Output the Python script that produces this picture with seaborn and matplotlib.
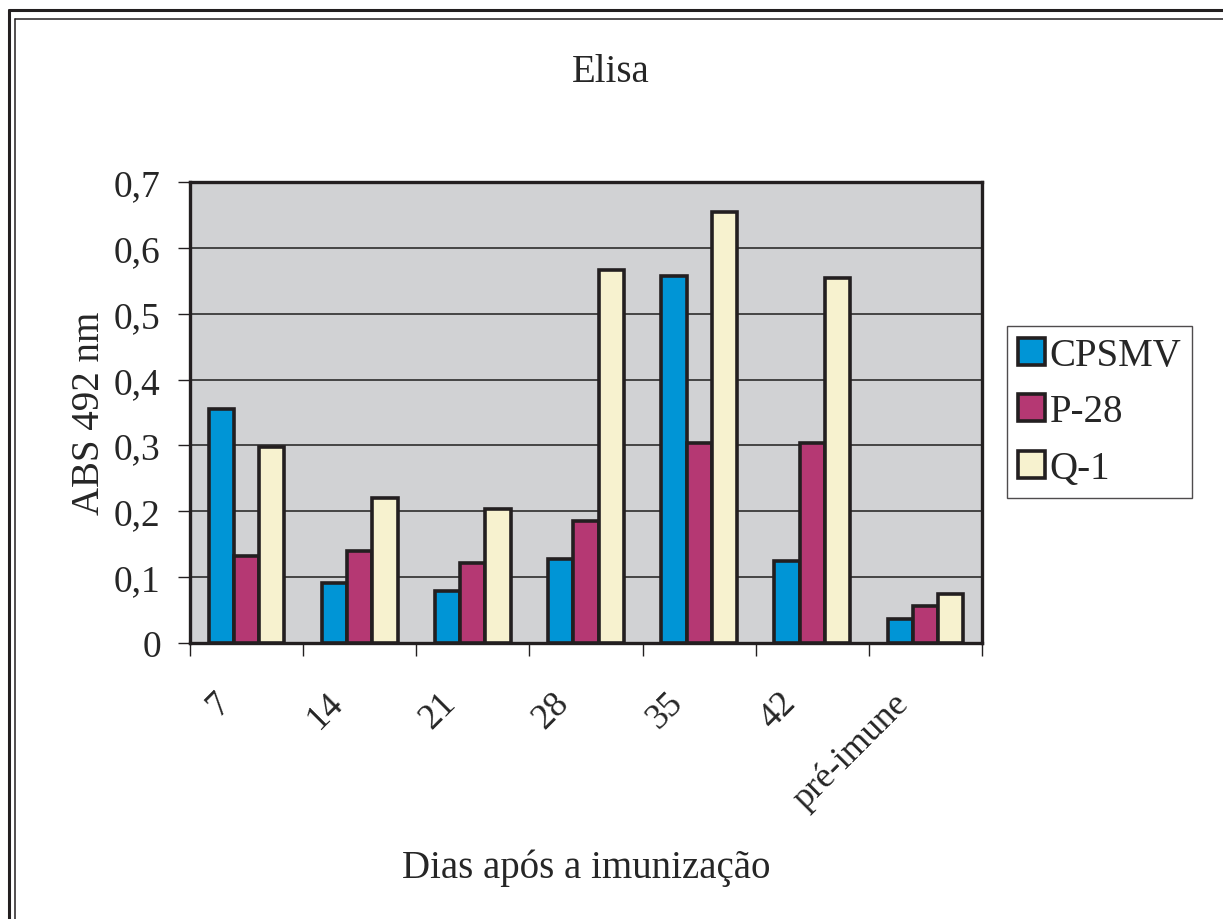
import pandas as pd
import matplotlib
matplotlib.use("Agg")
import matplotlib.pyplot as plt
import matplotlib.transforms as mtransforms
from matplotlib.lines import Line2D
from matplotlib.ticker import FuncFormatter, FixedLocator
import seaborn as sns

# Données
dias = ['7', '14', '21', '28', '35', '42', 'pré-imune']
cpsmv = [0.355, 0.091, 0.079, 0.127, 0.557, 0.124, 0.037]
p28 = [0.132, 0.139, 0.122, 0.185, 0.304, 0.304, 0.056]
q1 = [0.298, 0.220, 0.203, 0.567, 0.655, 0.554, 0.075]
series = ['CPSMV', 'P-28', 'Q-1']
cores = ['#0095D6', '#B53873', '#F7F2CF']

df = pd.DataFrame({
    'dia': dias * 3,
    'abs': cpsmv + p28 + q1,
    'serie': [s for s in series for _ in dias],
})

sns.set_theme(style='white')
plt.rcParams['font.family'] = ['Liberation Serif', 'DejaVu Serif']

fig = plt.figure(figsize=(12.23, 9.2), dpi=100)
ax = fig.add_axes([190 / 1223, 1 - 644 / 920, (982 - 190) / 1223, (644 - 183) / 920])

sns.barplot(data=df, x='dia', y='abs', hue='serie', palette=cores, order=dias,
            hue_order=series, width=0.67, edgecolor='#231f20', linewidth=2.6,
            saturation=1, ax=ax, zorder=3)

ax.set_facecolor('#D1D2D4')
ax.set_xlim(-0.5, len(dias) - 0.5)
ax.set_ylim(0, 0.7)
ax.set_yticks([i / 10 for i in range(8)])
ax.yaxis.set_major_formatter(FuncFormatter(lambda v, p: '0' if v == 0 else f'{v:.1f}'.replace('.', ',')))
ax.grid(axis='y', color='#3a3a3a', linewidth=1.3, zorder=1)
ax.set_axisbelow(True)
for sp in ax.spines.values():
    sp.set_color('#231f20')
    sp.set_linewidth(2.4)

ax.tick_params(axis='y', direction='out', length=9, width=1, color='#231f20',
               labelsize=27, pad=12, left=True)
# ticks de categoria entre os grupos
ax.xaxis.set_minor_locator(FixedLocator([i - 0.5 for i in range(len(dias) + 1)]))
ax.tick_params(axis='x', which='minor', direction='out', length=9, width=1,
               color='#231f20', bottom=True)
ax.tick_params(axis='x', which='major', length=0, labelsize=26, pad=31)
offset = mtransforms.ScaledTranslation(-24 / 72, 0, fig.dpi_scale_trans)
for lab in ax.get_xticklabels():
    lab.set_rotation(45)
    lab.set_ha('right')
    lab.set_va('top')
    lab.set_rotation_mode('anchor')
    lab.set_transform(lab.get_transform() + offset)

ax.set_xlabel('')
ax.set_ylabel('ABS 492 nm', fontsize=28, labelpad=4)
fig.text(586 / 1223, 1 - 868 / 920, 'Dias após a imunização', fontsize=28,
         ha='center', va='center')
fig.text(611 / 1223, 1 - 73 / 920, 'Elisa', fontsize=28, ha='center', va='center')

handles, labels = ax.get_legend_handles_labels()
ax.legend(handles, labels, loc='upper left', bbox_to_anchor=(1007 / 1223, 1 - 327 / 920),
          bbox_transform=fig.transFigure, borderaxespad=0, fontsize=28, frameon=True,
          fancybox=False, edgecolor='#231f20', handlelength=0.7, handleheight=0.7,
          handletextpad=0.12, labelspacing=0.5, borderpad=0.28, title=None)
ax.get_legend().get_frame().set_linewidth(1)

# moldura dupla da figura (esquerda e topo)
for x0, y0, lw in [(9, 11, 2.2), (14.5, 19.5, 1.1)]:
    fx, fy = x0 / 1223, 1 - y0 / 920
    fig.add_artist(Line2D([fx, fx], [0, fy], transform=fig.transFigure, color='#231f20', lw=lw))
    fig.add_artist(Line2D([fx, 1], [fy, fy], transform=fig.transFigure, color='#231f20', lw=lw))

fig.savefig('out.png', dpi=100, facecolor='white')
